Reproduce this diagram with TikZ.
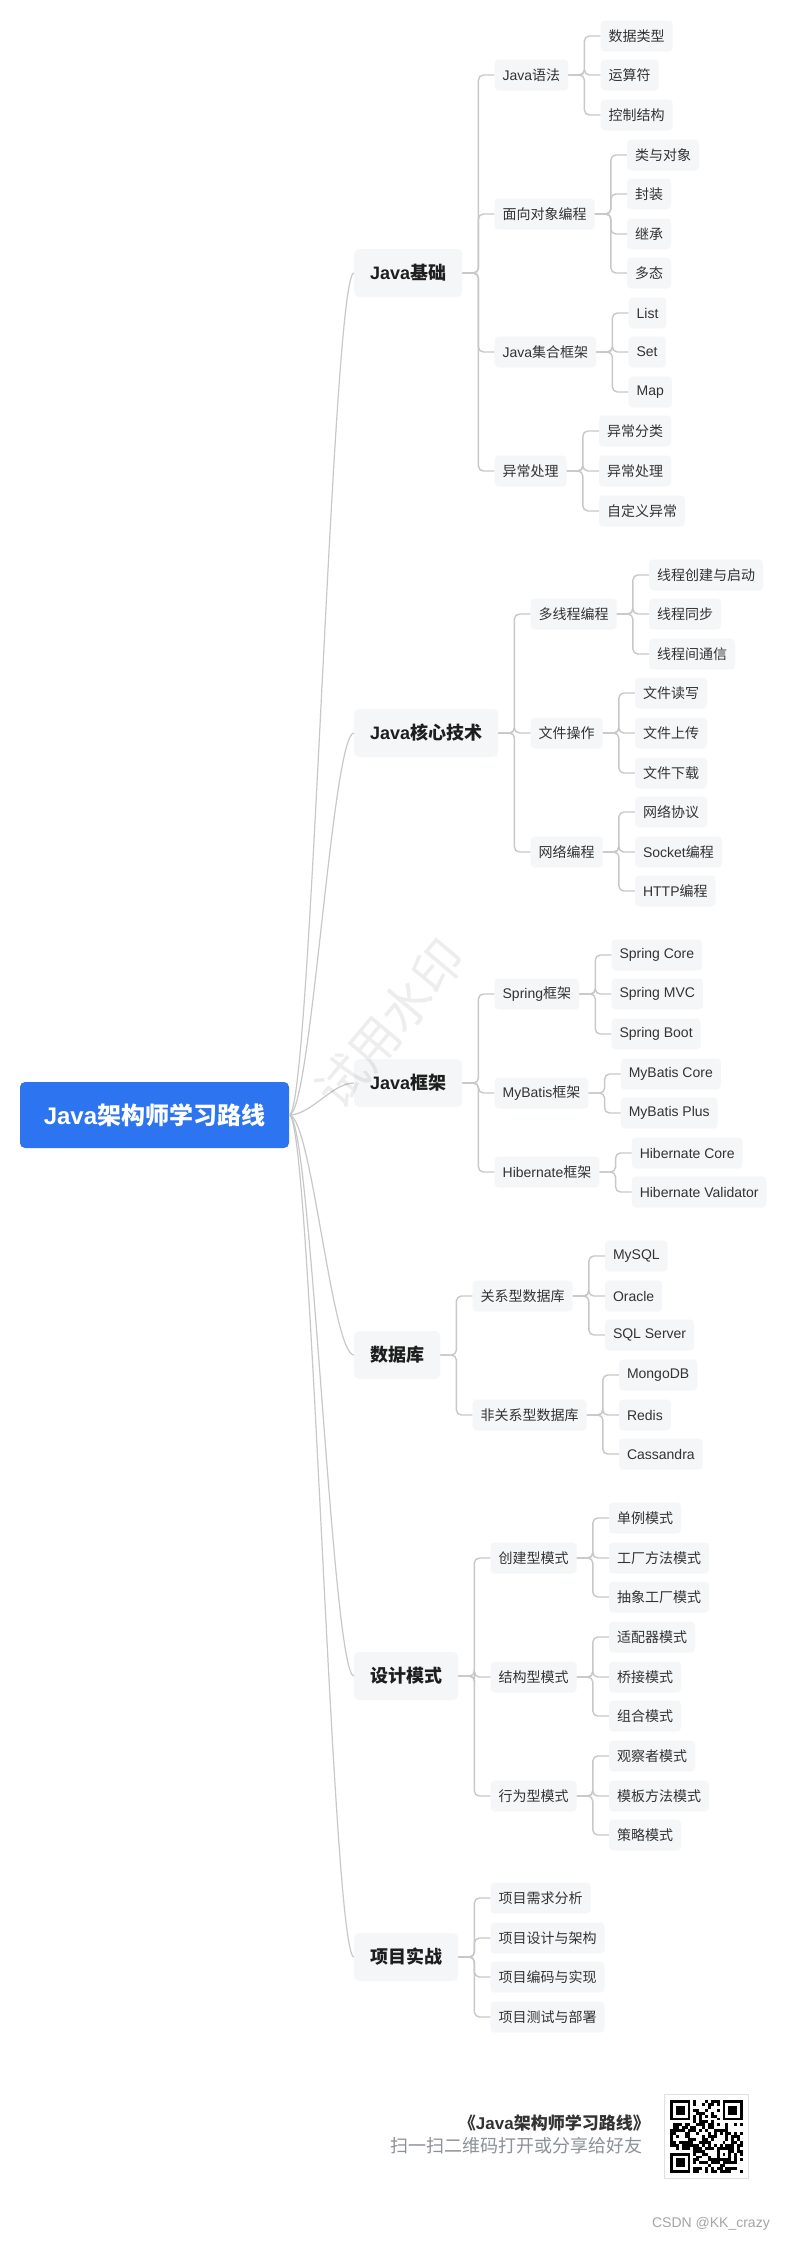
\documentclass[tikz,border=0pt]{standalone}
\usepackage{fontspec}
\setmainfont{Liberation Sans}
\newfontfamily\cjkfont{Noto Sans CJK SC}
\XeTeXinterchartokenstate=1
\newXeTeXintercharclass\cjkclass
\count255="3000
\loop \XeTeXcharclass\count255=\cjkclass \advance\count255 by 1 \ifnum\count255<"A000 \repeat
\count255="FF00
\loop \XeTeXcharclass\count255=\cjkclass \advance\count255 by 1 \ifnum\count255<"FFF0 \repeat
\XeTeXinterchartoks 0 \cjkclass = {\cjkfont}
\XeTeXinterchartoks 4095 \cjkclass = {\cjkfont}
\XeTeXinterchartoks \cjkclass 0 = {\rmfamily}
\definecolor{rootblue}{RGB}{45,116,240}
\definecolor{boxgray}{RGB}{245,246,247}
\definecolor{linegray}{RGB}{200,200,200}
\definecolor{inkgray}{RGB}{51,51,51}
\definecolor{inkdark}{RGB}{30,30,30}
\definecolor{hintgray}{RGB}{140,144,152}
\definecolor{creditgray}{RGB}{165,165,165}
\definecolor{framegray}{RGB}{224,224,224}
\tikzset{
  roadmap/.style={x=1pt,y=-1pt},
  rootbox/.style={fill=rootblue,rounded corners=5pt,text=white,minimum width=269pt,minimum height=66pt,
    font=\fontsize{24}{26}\selectfont\bfseries},
  topicbox/.style={anchor=west,fill=boxgray,rounded corners=5pt,minimum height=48pt,inner xsep=16pt,inner ysep=0pt,
    text=inkdark,font=\fontsize{18}{20}\selectfont\bfseries},
  leafbox/.style={anchor=west,fill=boxgray,rounded corners=4pt,minimum height=31pt,inner xsep=8pt,inner ysep=0pt,
    text=inkgray,font=\fontsize{14}{16}\selectfont},
  link/.style={draw=linegray,line width=1.4pt,rounded corners=5pt},
  twig/.style={draw=linegray,line width=1.2pt},
  cardtext/.style={anchor=east,inner sep=0pt}
}

\begin{document}
\begin{tikzpicture}[roadmap]
  \useasboundingbox[fill=white] (0,0) rectangle (785,2241);
  \node[rootbox] (root) at (154.5,1115) {Java架构师学习路线};
  \foreach \nm/\y/\txt in {base/273/Java基础,core/733/Java核心技术,frame/1083/Java框架,db/1355/数据库,pattern/1676/设计模式,proj/1957/项目实战} {
    \node[topicbox] (\nm) at (354,\y) {\txt};
    \draw[twig] (root.east) .. controls +(22,0) and +(-22,0) .. (\nm.west);
  }
  % second level
  \foreach \p/\kids in {
    base/{syntax/75/Java语法,oop/214/面向对象编程,coll/352/Java集合框架,exc/471/异常处理},
    core/{thread/614/多线程编程,file/733/文件操作,net/852/网络编程},
    frame/{spring/994/Spring框架,mybatis/1093/MyBatis框架,hib/1172/Hibernate框架},
    db/{rdb/1296/关系型数据库,nosql/1415/非关系型数据库},
    pattern/{create/1558/创建型模式,struct/1677/结构型模式,behav/1796/行为型模式},
    proj/{req/1898/项目需求分析,design/1938/项目设计与架构,code/1977/项目编码与实现,deploy/2017/项目测试与部署}}
  {\foreach \nm/\y/\txt in \kids {
     \node[leafbox] (\nm) at ([xshift=32pt]\p.east |- 0,\y) {\txt};
     \draw[link] (\p.east) -- ++(16,0) |- (\nm.west);
  }}
  % third level
  \foreach \p/\kids in {
    syntax/{dtype/36/数据类型,oper/75/运算符,ctrl/115/控制结构},
    oop/{cls/155/类与对象,encap/194/封装,inherit/234/继承,poly/273/多态},
    coll/{list/313/List,set/352/Set,map/392/Map},
    exc/{exkind/431/异常分类,exhand/471/异常处理,excustom/511/自定义异常},
    thread/{tcreate/575/线程创建与启动,tsync/614/线程同步,tcomm/654/线程间通信},
    file/{fread/693/文件读写,fup/733/文件上传,fdown/773/文件下载},
    net/{proto/812/网络协议,socket/852/Socket编程,http/891/HTTP编程},
    spring/{score/955/Spring Core,smvc/994/Spring MVC,sboot/1034/Spring Boot},
    mybatis/{mcore/1074/MyBatis Core,mplus/1113/MyBatis Plus},
    hib/{hcore/1153/Hibernate Core,hvalid/1192/Hibernate Validator},
    rdb/{mysql/1256/MySQL,oracle/1296/Oracle,sqlsrv/1335/SQL Server},
    nosql/{mongo/1375/MongoDB,redis/1415/Redis,cassandra/1454/Cassandra},
    create/{single/1518/单例模式,factory/1558/工厂方法模式,absfac/1597/抽象工厂模式},
    struct/{adapter/1637/适配器模式,bridge/1677/桥接模式,composite/1716/组合模式},
    behav/{observer/1756/观察者模式,template/1796/模板方法模式,strategy/1835/策略模式}}
  {\foreach \nm/\y/\txt in \kids {
     \node[leafbox] (\nm) at ([xshift=32pt]\p.east |- 0,\y) {\txt};
     \draw[link] (\p.east) -- ++(16,0) |- (\nm.west);
  }}
  \node[text=black,text opacity=0.07,rotate=50,font=\fontsize{50}{50}\selectfont] (mark) at (390,1024) {试用水印};
  % share card
  \node[cardtext,text=inkgray,font=\fontsize{17}{19}\selectfont\bfseries] (cardtitle) at (650,2123) {《Java架构师学习路线》};
  \node[cardtext,text=hintgray,font=\fontsize{18}{20}\selectfont] (cardhint) at (643,2146) {扫一扫二维码打开或分享给好友};
  \node[fill=white,draw=framegray,line width=1pt,minimum size=84pt,inner sep=0pt] (qr) at (706,2136) {};
  \def\qrx{670}\def\qry{2100}\def\qrm{2.92}
  \pgfmathsetseed{2024}
  \foreach \i in {0,...,24} \foreach \j in {0,...,24} {
    \pgfmathtruncatemacro\skipit{(\i<8 && \j<8) || (\i>16 && \j<8) || (\i<8 && \j>16) || (\i>15 && \i<21 && \j>15 && \j<21)}
    \pgfmathrandominteger{\bit}{0}{1}
    \ifnum\skipit=0 \ifnum\bit=1 \fill ({\qrx+\i*\qrm},{\qry+\j*\qrm}) rectangle ++(\qrm,\qrm); \fi\fi
  }
  \foreach \fx/\fy in {0/0,18/0,0/18} {
    \fill ({\qrx+\fx*\qrm},{\qry+\fy*\qrm}) rectangle ++({7*\qrm},{7*\qrm});
    \fill[white] ({\qrx+(\fx+1)*\qrm},{\qry+(\fy+1)*\qrm}) rectangle ++({5*\qrm},{5*\qrm});
    \fill ({\qrx+(\fx+2)*\qrm},{\qry+(\fy+2)*\qrm}) rectangle ++({3*\qrm},{3*\qrm});
  }
  \fill ({\qrx+16*\qrm},{\qry+16*\qrm}) rectangle ++({5*\qrm},{5*\qrm});
  \fill[white] ({\qrx+17*\qrm},{\qry+17*\qrm}) rectangle ++({3*\qrm},{3*\qrm});
  \fill ({\qrx+18*\qrm},{\qry+18*\qrm}) rectangle ++(\qrm,\qrm);
  \node[cardtext,text=creditgray,font=\fontsize{14}{16}\selectfont] (credit) at (770,2224) {CSDN @KK\_crazy};
\end{tikzpicture}
\end{document}
